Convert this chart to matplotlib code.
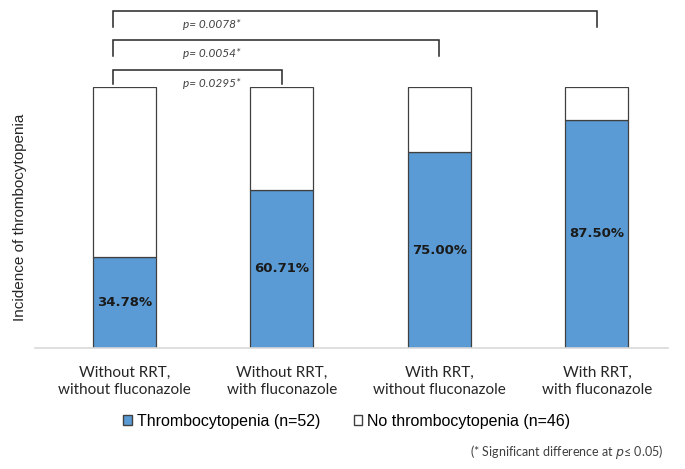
import matplotlib.pyplot as plt
from matplotlib.patches import Patch

# data
groups = ['Without RRT,\nwithout fluconazole', 'Without RRT,\nwith fluconazole',
          'With RRT,\nwithout fluconazole', 'With RRT,\nwith fluconazole']
thrombo = [34.78, 60.71, 75.00, 87.50]
no_thrombo = [100 - v for v in thrombo]
pairs = [(0, 1), (0, 2), (0, 3)]
p_labels = ['p= 0.0295*', 'p= 0.0054*', 'p= 0.0078*']

blue = '#5B9BD5'
edge = '#404040'

fig = plt.figure(figsize=(6.85, 4.69), dpi=100)
ax = fig.add_axes([0.051, 0.258, 0.924, 0.5565])

x = list(range(len(groups)))
ax.bar(x, thrombo, width=0.4, color=blue, edgecolor=edge, linewidth=0.9)
ax.bar(x, no_thrombo, width=0.4, bottom=thrombo, color='white', edgecolor=edge, linewidth=0.9)

for xi, v in zip(x, thrombo):
    ax.text(xi, v / 2, f'{v:.2f}%', ha='center', va='center', fontsize=9.5,
            fontweight='bold', color='#1a1a1a', family='DejaVu Sans')

ax.set_xlim(-0.568, 3.45)
ax.set_ylim(0, 100)
ax.set_xticks(x)
ax.set_xticklabels(groups, fontsize=11, family='Lato', color='#262626', linespacing=1.3)
ax.tick_params(axis='x', length=0, pad=13)
ax.set_yticks([])
for s in ['top', 'right', 'left']:
    ax.spines[s].set_visible(False)
ax.spines['bottom'].set_color('#d9d9d9')
ax.spines['bottom'].set_linewidth(1.2)
ax.set_ylabel('Incidence of thrombocytopenia', fontsize=11, family='Liberation Sans',
              color='#262626', labelpad=6)

# significance brackets above the bars
levels = [(106.5, 101.1, 101.5), (118.0, 111.9, 113.0), (129.1, 123.0, 123.8)]
for (a, b), lab, (ytop, ylow, ytxt) in zip(pairs, p_labels, levels):
    xl = a - 0.07
    xr = b
    ax.plot([xl, xl, xr, xr], [ylow, ytop, ytop, ylow], color='#262626', lw=1.1,
            clip_on=False, solid_joinstyle='miter')
    ax.text(0.37, ytxt, lab, ha='left', va='center', fontsize=8.5, style='italic',
            family='Lato', color='#404040', clip_on=False)

handles = [Patch(facecolor=blue, edgecolor=edge, label='Thrombocytopenia (n=52)'),
           Patch(facecolor='white', edgecolor=edge, label='No thrombocytopenia (n=46)')]
fig.legend(handles=handles, loc='center', bbox_to_anchor=(0.506, 0.102), ncol=2,
           frameon=False, handlelength=0.55, handleheight=0.55, handletextpad=0.3,
           columnspacing=2.1, prop={'family': 'Liberation Sans', 'size': 11.5})

fig.text(0.968, 0.036, '(* Significant difference at $p$≤ 0.05)', ha='right', va='center',
         fontsize=9, family='Lato', color='#404040')

fig.savefig('out.png', dpi=100)
